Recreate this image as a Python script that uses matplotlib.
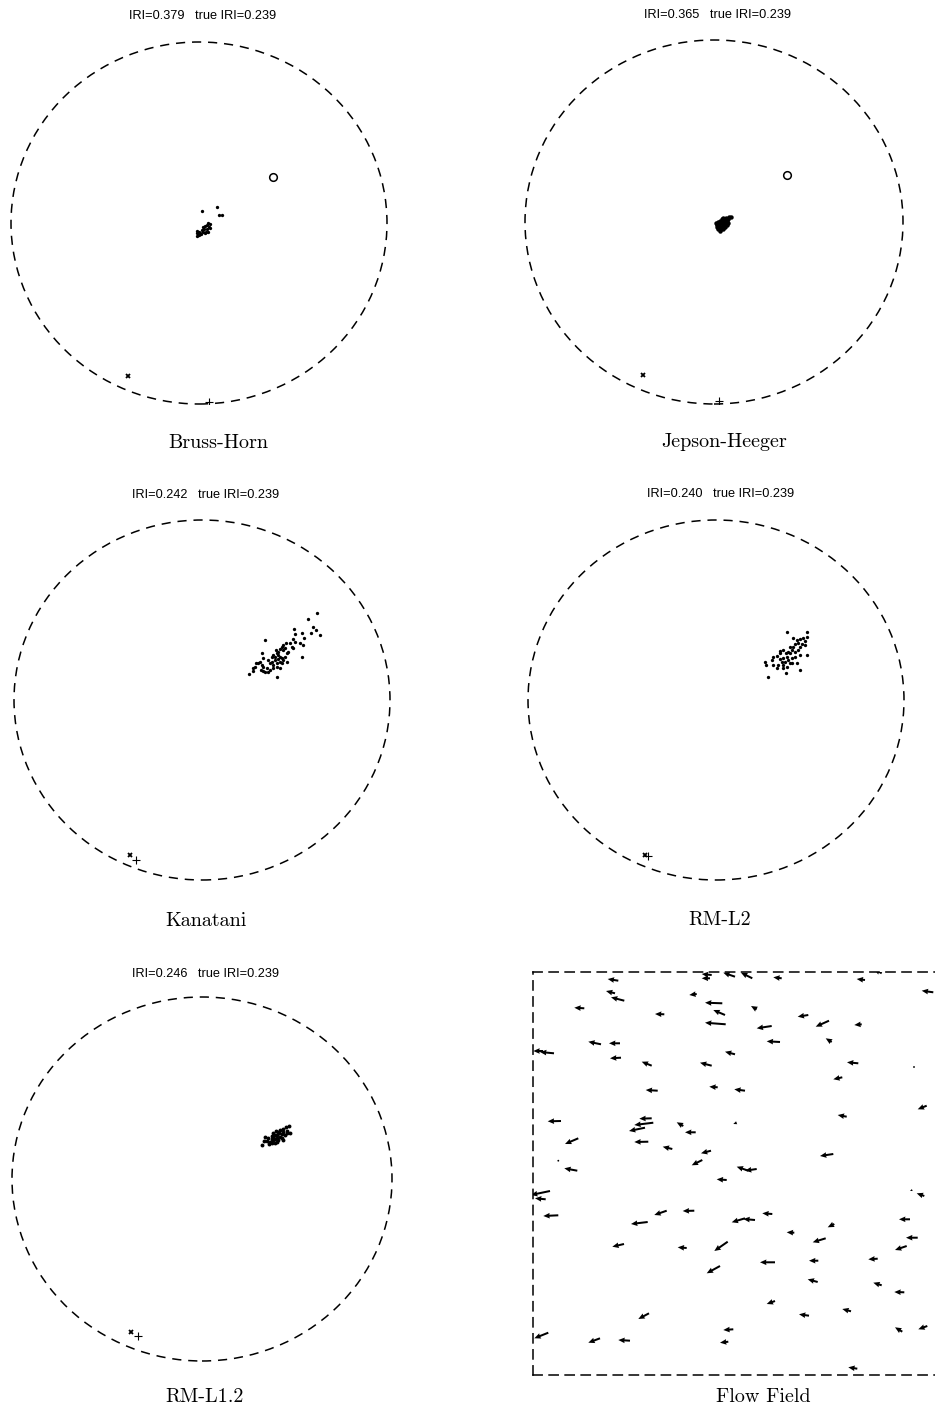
import matplotlib
matplotlib.use("Agg")
import matplotlib.pyplot as plt
from matplotlib.patches import Circle

W, H = 935, 1410

# ---- estimated translation directions (unit-disk coordinates) ----
bh_x = [0.014, 0.094, 0.106, 0.122, -0.009, -0.004, 0.002, -0.009, 0.005, 0.014, 0.023, 0.032,
        0.041, 0.050, 0.059, 0.055, 0.044, 0.037, 0.027, 0.020, 0.009, 0.002, 0.050, 0.059,
        0.032, -0.012]
bh_y = [0.068, 0.087, 0.044, 0.043, -0.042, -0.057, -0.066, -0.072, -0.053, -0.039, -0.024, -0.017,
        -0.011, -0.002, -0.007, -0.024, -0.035, -0.048, -0.035, -0.050, -0.061, -0.048, -0.048, -0.029,
        -0.057, -0.053]

jh_x = [0.011, 0.014, 0.023, 0.032, 0.041, 0.049, 0.063, 0.070, 0.076, 0.067, 0.058, 0.046,
        0.032, 0.023, 0.017, 0.028, 0.041, 0.049, 0.058, 0.067, 0.041, 0.049, 0.032, 0.058,
        0.014, 0.076, 0.081, 0.090, 0.036, 0.054, 0.045, 0.062, 0.027, 0.050]
jh_y = [-0.007, -0.026, 0.002, 0.007, 0.015, 0.020, 0.020, 0.011, -0.004, -0.016, -0.029, -0.040,
        -0.048, -0.040, -0.016, -0.016, -0.007, 0.002, 0.002, 0.002, -0.026, -0.016, -0.029, -0.011,
        -0.011, 0.015, 0.026, 0.029, -0.036, -0.021, -0.033, 0.010, -0.004, 0.012]

ka_x = [0.610, 0.566, 0.589, 0.606, 0.628, 0.578, 0.489, 0.495, 0.530, 0.543, 0.486, 0.495,
        0.521, 0.539, 0.468, 0.477, 0.486, 0.447, 0.433, 0.424, 0.415, 0.441, 0.459, 0.451,
        0.406, 0.397, 0.379, 0.371, 0.388, 0.406, 0.415, 0.424, 0.433, 0.451, 0.415, 0.397,
        0.379, 0.362, 0.353, 0.335, 0.318, 0.326, 0.309, 0.300, 0.318, 0.326, 0.344, 0.335,
        0.362, 0.379, 0.397, 0.415, 0.287, 0.282, 0.270, 0.252, 0.273, 0.312, 0.326, 0.397,
        0.530, 0.353, 0.371, 0.388, 0.406, 0.424, 0.394, 0.433, 0.441]
ka_y = [0.485, 0.448, 0.404, 0.389, 0.361, 0.370, 0.393, 0.367, 0.370, 0.343, 0.337, 0.324,
        0.315, 0.306, 0.315, 0.296, 0.287, 0.315, 0.306, 0.296, 0.282, 0.287, 0.269, 0.259,
        0.269, 0.259, 0.250, 0.241, 0.241, 0.250, 0.241, 0.232, 0.222, 0.213, 0.213, 0.204,
        0.194, 0.204, 0.222, 0.333, 0.259, 0.232, 0.213, 0.204, 0.194, 0.185, 0.176, 0.157,
        0.167, 0.176, 0.185, 0.176, 0.207, 0.185, 0.176, 0.144, 0.163, 0.167, 0.163, 0.126,
        0.241, 0.157, 0.213, 0.222, 0.226, 0.204, 0.278, 0.278, 0.241]

l2_x = [0.379, 0.486, 0.408, 0.429, 0.447, 0.464, 0.473, 0.486, 0.438, 0.420, 0.394, 0.411,
        0.447, 0.456, 0.473, 0.403, 0.385, 0.372, 0.394, 0.420, 0.438, 0.376, 0.358, 0.340,
        0.349, 0.367, 0.385, 0.403, 0.420, 0.447, 0.486, 0.340, 0.323, 0.305, 0.296, 0.261,
        0.266, 0.305, 0.331, 0.358, 0.376, 0.403, 0.429, 0.447, 0.372, 0.323, 0.278, 0.340,
        0.358, 0.394, 0.355]
l2_y = [0.379, 0.379, 0.343, 0.333, 0.337, 0.343, 0.330, 0.352, 0.315, 0.311, 0.296, 0.293,
        0.296, 0.311, 0.306, 0.278, 0.269, 0.259, 0.259, 0.269, 0.278, 0.241, 0.232, 0.226,
        0.213, 0.213, 0.222, 0.232, 0.241, 0.250, 0.250, 0.259, 0.244, 0.237, 0.222, 0.213,
        0.194, 0.194, 0.194, 0.194, 0.185, 0.204, 0.204, 0.167, 0.152, 0.176, 0.130, 0.274,
        0.278, 0.207, 0.176]

l12_x = [0.314, 0.326, 0.332, 0.349, 0.358, 0.367, 0.375, 0.384, 0.393, 0.402, 0.411, 0.419,
         0.428, 0.442, 0.460, 0.446, 0.463, 0.437, 0.411, 0.393, 0.375, 0.367, 0.384, 0.402,
         0.419, 0.428, 0.407, 0.389, 0.446, 0.425, 0.354, 0.341, 0.375, 0.393, 0.367, 0.384]
l12_y = [0.187, 0.210, 0.232, 0.224, 0.205, 0.236, 0.251, 0.242, 0.224, 0.260, 0.269, 0.247,
         0.273, 0.284, 0.291, 0.265, 0.251, 0.242, 0.232, 0.205, 0.214, 0.196, 0.196, 0.214,
         0.224, 0.214, 0.251, 0.265, 0.254, 0.260, 0.192, 0.210, 0.232, 0.242, 0.218, 0.218]

# reference markers per method: (x, y) or None
circ_mark = [(0.394, 0.254), (0.386, 0.258), None, None, None]
cross_mark = [(-0.378, -0.845), (-0.376, -0.841), (-0.383, -0.861), (-0.378, -0.861), (-0.375, -0.842)]
plus_mark = [(0.053, -0.989), (0.026, -0.984), (-0.351, -0.889), (-0.362, -0.867), (-0.335, -0.861)]

methods = ["Bruss-Horn", "Jepson-Heeger", "Kanatani", "RM-L2", "RM-L1.2"]
r_est = [0.379, 0.365, 0.242, 0.240, 0.246]
r_true = 0.239
clouds = [(bh_x, bh_y), (jh_x, jh_y), (ka_x, ka_y), (l2_x, l2_y), (l12_x, l12_y)]
cloud_ms = [2.4, 3.2, 2.4, 2.4, 2.8]

# ---- flow field: arrow tails and displacement vectors ----
flow_x0 = [85.3, 178.7, 177, 202, 219.3, 248.7, 332, 348.7, 400.3, 82, 91.3, 163.7, 51.3, 189.3,
           192, 223.7, 131.3, 192.7, 275.3, 296, 328.7, 238.7, 68, 87, 247, 298.7, 10, 21, 202,
           88, 118.7, 178.7, 325.3, 381, 309.3, 124.7, 184.7, 212, 393.7, 313.7, 28, 118.7, 120.3,
           112, 150.3, 162.7, 203.7, 45.3, 115.3, 139.3, 178, 300.3, 25.3, 44.3, 169.3, 215.3,
           223.7, 193.7, 17, 12.7, 379.3, 391.3, 25.3, 133.7, 161.3, 114.7, 212, 222, 239.3, 261.3,
           301.3, 377, 384.7, 292.7, 91, 153.7, 194.7, 373.7, 242, 285.3, 344.7, 187, 284.7, 348.7,
           371.3, 242, 276, 318, 116, 200.3, 369.3, 394.3, 15.3, 67, 97, 195.3, 324.3]
flow_y0 = [394.3, 400, 396.7, 398.3, 396.7, 396.7, 395, 401.7, 382.7, 381.7, 374.3, 381, 366.7, 371.7,
           360, 365.7, 360.7, 350.7, 360, 354.3, 350.7, 349, 330.7, 331.7, 333, 333, 324, 321.7, 320.7,
           317.3, 309.3, 309.3, 311.7, 308, 297.7, 284.3, 287.7, 284.3, 269.3, 258.3, 254, 256.7, 252.3,
           247.3, 249, 242.7, 252.3, 236.7, 233.3, 226, 224.3, 221, 214.3, 204.3, 215, 204.3,
           206, 195, 184, 175.7, 185, 179, 159.7, 164.3, 164.3, 153, 156.7, 155, 161, 142.3,
           151, 155.7, 137.3, 136.7, 131, 127, 133.3, 129, 112.7, 114.3, 116.3, 109, 93, 89.7,
           82.7, 74, 59.3, 63.7, 61.7, 45.7, 43.3, 49, 42.3, 36.7, 34.3, 33.3, 6.3]
flow_u = [-10.6, -10, -8.3, -11.7, -11.3, -8.4, -8.3, -7.7, -11.6, -9, -13.3, -7.4, -10, -17.3,
          -11.7, -5.7, -9.3, -20.7, -10.6, -13.3, -7.4, -15, -12.7, -11, -13.3, -6, -9.7, -14, -10,
          -11, -10, -11.7, -11.3, -1, -9, -12, -8.4, -10.7, -9, -9, -13.3, -12.4, -19,
          -16, -6.6, -10.7, -3.4, -13.3, -14, -9.6, -10, -13.3, -1.5, -13, -10.6, -11.6,
          -11.7, -10, -19, -10.7, -2.3, -7.6, -15, -12.4, -11.6, -16.7, -13.3, -11.7, -10, -7.6,
          -6.6, -11, -11.7, -13, -11.7, -9, -13.4, -11.7, -15, -9.3, -9.4, -13.3, -10, -8.4,
          -10, -8.3, -10, -8.7, -10.7, -10, -7.3, -9, -14, -11.7, -11.7, -8.3, -9]
flow_v = [1.7, 1, 0, 4, 5.6, 1, 1, 4.3, 1.6, 2.3, 3.4, -1, 0.6, 0.6,
          5, 3.3, 0.3, 1.6, -1.7, -6, -0.7, -2.3, 2.6, 0, 0.7, 3.7, 0, 1.3, 2.6,
          -0.6, 4, 3, 1, 0, -2, 0.7, 0.6, 1.4, -3.6, 1.7, -0.3, -0.4, -2.3,
          -3.3, 3.7, 0, -1.3, -5.7, -0.3, 2.3, -2.6, -2, 0.5, 2.4, -5.3, 4,
          -1.7, 0.7, -4, 1, -1, 2.7, -0.7, -4.3, -0.3, -2, -4, 1, 0.7, 0.4,
          -3.3, 0, 0, -4, -2.7, 0.7, -9.3, -4, 0, 0, -0.6, -7.3, 2.7, 2.6,
          0.3, -3, 1.4, 2.3, -5.7, -0.7, 4.4, -3.3, -5.6, -4.4, 0.7, -1, 1.4]
flow_w, flow_h = 402, 403

# ---- layout (pixel boxes of the disks) ----
disk_boxes = [  # cx, cy, rx, ry
    (199, 223, 188, 181),
    (714, 222, 189, 182),
    (202, 700, 188, 180),
    (716, 700, 188, 180),
    (202, 1179, 190, 182),
]
title_pos = [(203, 16), (717, 15), (206, 495), (721, 494), (206, 974)]
caption_pos = [(218, 443), (724, 442), (206, 921), (720, 920), (205, 1397)]

fig = plt.figure(figsize=(W / 100, H / 100), dpi=100)
fig.patch.set_facecolor("white")

dash = (0, (6, 4.5))
sans = ["Liberation Sans", "DejaVu Sans"]
serif = ["cmr10", "Liberation Serif", "DejaVu Serif"]


def add_px_axes(left, top, right, bottom):
    return fig.add_axes([left / W, 1 - bottom / H, (right - left) / W, (bottom - top) / H])


for i, (cx, cy, rx, ry) in enumerate(disk_boxes):
    ax = add_px_axes(cx - rx, cy - ry, cx + rx, cy + ry)
    ax.set_xlim(-1, 1)
    ax.set_ylim(-1, 1)
    ax.axis("off")
    ax.add_patch(Circle((0, 0), 1, fill=False, ec="black", lw=1.1, ls=dash, clip_on=False))
    xs, ys = clouds[i]
    ax.plot(xs, ys, ls="none", marker="o", ms=cloud_ms[i], mew=0, color="black", clip_on=False)
    if circ_mark[i] is not None:
        ax.plot(*circ_mark[i], marker="o", ms=5.5, mfc="none", mec="black", mew=1.1)
    ax.plot(*cross_mark[i], marker="x", ms=3.2, mec="black", mew=1.3)
    ax.plot(*plus_mark[i], marker="+", ms=6, mec="black", mew=0.8)

    tx, ty = title_pos[i]
    fig.text(tx / W, 1 - ty / H, f"IRI={r_est[i]:.3f}   true IRI={r_true:.3f}",
             ha="center", va="center", fontsize=9.2, family=sans)
    lx, ly = caption_pos[i]
    fig.text(lx / W, 1 - ly / H, methods[i], ha="center", va="center",
             fontsize=14.5, family=serif)

# flow field panel
fax = add_px_axes(533, 972, 533 + flow_w, 972 + flow_h)
fax.set_xlim(0, flow_w)
fax.set_ylim(0, flow_h)
fax.set_xticks([])
fax.set_yticks([])
for side in ("left", "top", "bottom"):
    fax.spines[side].set_linestyle(dash)
    fax.spines[side].set_linewidth(1.1)
fax.spines["right"].set_visible(False)
fax.quiver(flow_x0, flow_y0, flow_u, flow_v, angles="xy", scale_units="xy", scale=1,
           width=0.005, headwidth=2.8, headlength=3.2, headaxislength=3.0, color="black")
fig.text(763 / W, 1 - 1397 / H, "Flow Field", ha="center", va="center",
         fontsize=14.5, family=serif)

fig.savefig("out.png", dpi=100, facecolor="white")
